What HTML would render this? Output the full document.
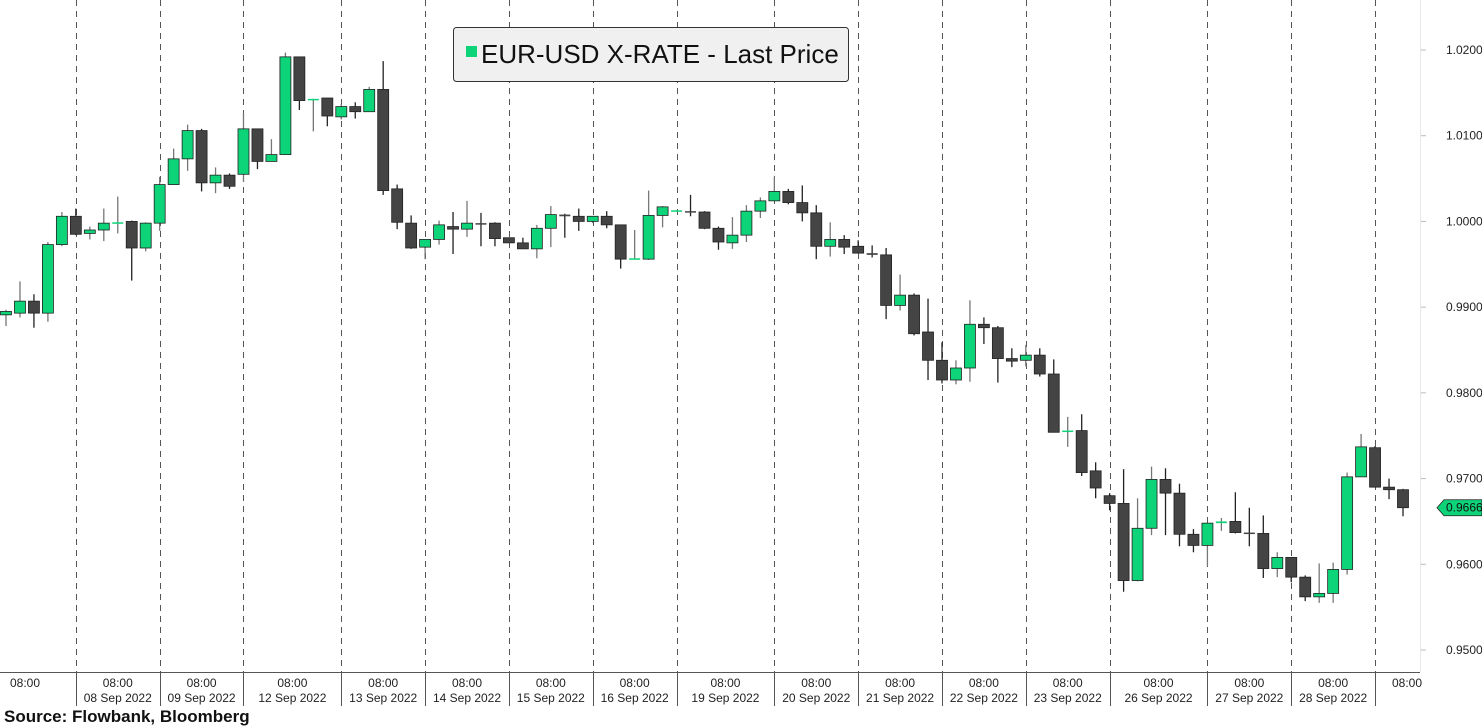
<!DOCTYPE html>
<html><head><meta charset="utf-8"><style>
html,body{margin:0;padding:0;background:#fff;width:1482px;height:727px;overflow:hidden;font-family:"Liberation Sans",sans-serif}
svg{position:absolute;left:0;top:0}
</style></head><body>
<svg id="chart" width="1482" height="727">
<g id="grid"></g>
<g id="candles"></g>
<g id="xaxis"></g>
<g id="yaxis"></g>
<g>
<rect x="453.5" y="27.5" width="395" height="54" rx="3" fill="#f0f0f0" stroke="#333" stroke-width="1"/>
<rect x="466" y="46" width="11" height="11" fill="#0dd478"/>
<text x="481" y="63" font-size="26" fill="#111">EUR-USD X-RATE - Last Price</text>
</g>
<text x="4" y="722" font-size="17" font-weight="bold" fill="#111">Source:  Flowbank, Bloomberg</text>
</svg>
<script>
const opens=[.9891,.9893,.9907,.9893,.9973,1.0006,.9986,.9990,.9998,1.0000,.9969,.9998,1.0043,1.0073,1.0106,1.0045,1.0054,1.0055,1.0108,1.0070,1.0078,1.0192,1.0142,1.0144,1.0122,1.0134,1.0128,1.0154,1.0038,.9998,.9970,.9979,.9994,.9991,.9998,.9998,.9981,.9975,.9968,.9992,1.0008,1.0006,1.0000,1.0006,.9996,.9956,.9956,1.0007,1.0012,1.0012,1.0011,.9992,.9975,.9984,1.0012,1.0024,1.0035,1.0022,1.0010,.9971,.9979,.9971,.9963,.9961,.9902,.9914,.9871,.9838,.9815,.9829,.9880,.9876,.9840,.9838,.9844,.9822,.9755,.9756,.9709,.9680,.9671,.9581,.9642,.9699,.9683,.9635,.9622,.9648,.9650,.9637,.9636,.9595,.9608,.9585,.9562,.9566,.9594,.9702,.9736,.9690,.9687];
const highs=[.9897,.9930,.9915,.9976,1.0011,1.0015,.9994,1.0015,1.0029,1.0001,.9999,1.0052,1.0085,1.0113,1.0108,1.0063,1.0056,1.0126,1.0108,1.0096,1.0197,1.0192,1.0143,1.0144,1.0137,1.0139,1.0157,1.0187,1.0043,1.0007,.9979,1.0001,1.0011,1.0024,1.0010,.9999,.9981,.9981,.9996,1.0018,1.0009,1.0015,1.0006,1.0012,.9996,.9990,1.0036,1.0018,1.0013,1.0031,1.0012,.9994,1.0005,1.0019,1.0028,1.0052,1.0038,1.0042,1.0019,.9999,.9984,.9978,.9972,.9969,.9938,.9916,.9910,.9859,.9838,.9908,.9888,.9878,.9852,.9856,.9852,.9839,.9772,.9775,.9719,.9683,.9711,.9677,.9714,.9712,.9694,.9641,.9648,.9654,.9684,.9666,.9657,.9614,.9608,.9587,.9601,.9602,.9707,.9752,.9738,.9700,.9688];
const lows=[.9878,.9888,.9876,.9883,.9971,.9984,.9979,.9977,.9986,.9931,.9965,.9989,1.0043,1.0059,1.0035,1.0033,1.0038,1.0046,1.0061,1.0070,1.0078,1.0130,1.0105,1.0111,1.0119,1.0120,1.0128,1.0031,.9991,.9968,.9956,.9973,.9962,.9982,.9971,.9971,.9975,.9968,.9957,.9970,.9981,.9989,.9998,.9992,.9945,.9956,.9955,.9993,1.0012,1.0006,.9991,.9967,.9968,.9976,1.0004,1.0024,1.0020,1.0000,.9956,.9959,.9962,.9963,.9958,.9886,.9896,.9867,.9815,.9811,.9810,.9813,.9857,.9812,.9830,.9831,.9819,.9754,.9737,.9703,.9677,.9663,.9568,.9580,.9634,.9634,.9621,.9614,.9598,.9639,.9636,.9621,.9584,.9585,.9579,.9557,.9555,.9555,.9588,.9702,.9690,.9676,.9656];
const closes=[.9895,.9907,.9893,.9973,1.0006,.9985,.9990,.9998,.9999,.9969,.9998,1.0043,1.0073,1.0106,1.0045,1.0054,1.0041,1.0108,1.0070,1.0078,1.0192,1.0141,1.0143,1.0123,1.0134,1.0128,1.0154,1.0036,.9999,.9969,.9979,.9996,.9991,.9998,.9997,.9980,.9975,.9968,.9992,1.0008,1.0006,1.0000,1.0006,.9996,.9956,.9957,1.0007,1.0017,1.0013,1.0011,.9992,.9976,.9984,1.0012,1.0024,1.0035,1.0022,1.0010,.9971,.9979,.9970,.9963,.9961,.9902,.9914,.9869,.9838,.9815,.9829,.9880,.9876,.9840,.9837,.9844,.9822,.9754,.9756,.9707,.9689,.9671,.9581,.9642,.9699,.9683,.9635,.9622,.9648,.9650,.9637,.9636,.9595,.9608,.9585,.9562,.9566,.9594,.9702,.9737,.9690,.9687,.9666];
const dividerIdx=[5,11,17,24,30,36,42,48,55,61,67,73,79,86,92,98];
const dateLabels=["08 Sep 2022","09 Sep 2022","12 Sep 2022","13 Sep 2022","14 Sep 2022","15 Sep 2022","16 Sep 2022","19 Sep 2022","20 Sep 2022","21 Sep 2022","22 Sep 2022","23 Sep 2022","26 Sep 2022","27 Sep 2022","28 Sep 2022"];
const yTicks=[1.02,1.01,1.00,0.99,0.98,0.97,0.96,0.95];
const yTickLabels=["1.0200","1.0100","1.0000","0.9900","0.9800","0.9700","0.9600","0.9500"];
const lastPrice=0.9666;

const NS="http://www.w3.org/2000/svg";
const X=i=>6+i*13.97;
const Y=v=>50+(1.02-v)*8571.4;
function mk(tag,attrs,parent){const e=document.createElementNS(NS,tag);for(const k in attrs)e.setAttribute(k,attrs[k]);parent.appendChild(e);return e;}
const grid=document.getElementById('grid'),cg=document.getElementById('candles'),xa=document.getElementById('xaxis'),ya=document.getElementById('yaxis');
// right axis separator
mk('line',{x1:1420.5,y1:0,x2:1420.5,y2:672,stroke:'#e8e8e8'},ya);
dividerIdx.forEach(i=>{
  const x=Math.round(X(i))+0.5;
  const l=mk('line',{x1:x,y1:0,x2:x,y2:672,stroke:'#555','stroke-dasharray':'6,5','stroke-width':1},grid);
  
  
  const t=mk('line',{x1:x,y1:672,x2:x,y2:706,stroke:'#555'},xa);
  
  
});
mk('line',{x1:0,y1:672.5,x2:1420,y2:672.5,stroke:'#555'},xa);
opens.forEach((o,i)=>{
  const c=closes[i],up=c>=o,x=X(i);
  const g=mk('g',{},cg);
  
  
  mk('line',{x1:x,y1:Y(highs[i]),x2:x,y2:Y(lows[i]),stroke:up?'#777':'#222','stroke-width':1.3},g);
  const top=Y(Math.max(o,c)),bot=Y(Math.min(o,c));
  const h=Math.max(bot-top,1.5);
  mk('rect',{x:x-5.5,y:top,width:11,height:h,fill:up?'#0dd478':'#444',stroke:(h>2)?'#222':'none','stroke-width':0.8},g);
});
// x labels
const timeX=[25];dividerIdx.forEach((d,k)=>{if(k<dividerIdx.length-1)timeX.push(X(d)+(X(dividerIdx[k+1])-X(d))/2);});
timeX.push(1407);
timeX.forEach((x,k)=>{
  const t=mk('text',{x:x,y:687,'font-size':12,'text-anchor':'middle',fill:'#222'},xa);t.textContent='08:00';
  
  
  if(k>=1&&k<=dateLabels.length){const d=mk('text',{x:x,y:702,'font-size':12,'text-anchor':'middle',fill:'#222'},xa);d.textContent=dateLabels[k-1];
  
  }
});
yTicks.forEach((v,k)=>{
  const y=Y(v);
  mk('line',{x1:1421,y1:y,x2:1426,y2:y,stroke:'#bbb'},ya);
  const t=mk('text',{x:1446,y:y+4,'font-size':12,fill:'#222'},ya);t.textContent=yTickLabels[k];
  
  
});
const ly=Y(lastPrice);
const tag=mk('path',{d:`M1437 ${ly} L1444 ${ly-8} L1482 ${ly-8} L1482 ${ly+8} L1444 ${ly+8} Z`,fill:'#0dd478',stroke:'#222','stroke-width':0.8},ya);


const lt=mk('text',{x:1446,y:ly+4,'font-size':12,fill:'#111'},ya);lt.textContent=lastPrice.toFixed(4);


</script>
</body></html>
